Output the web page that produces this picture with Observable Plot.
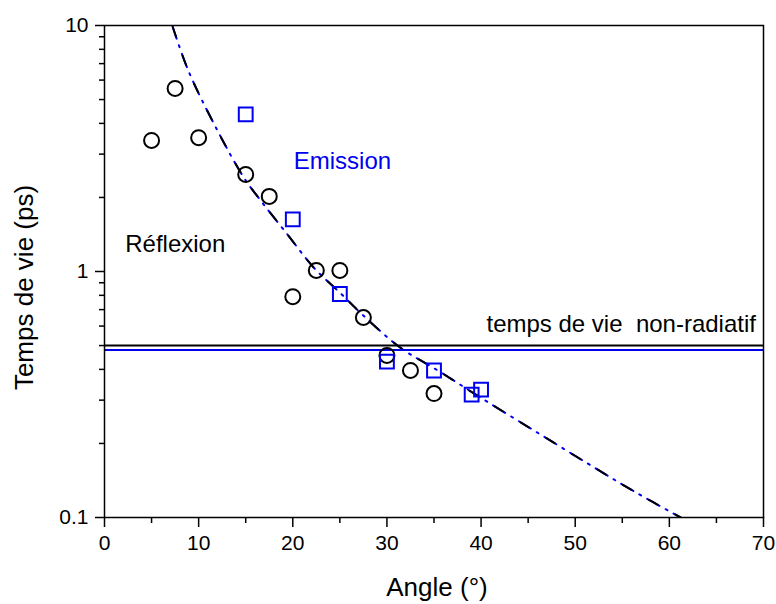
<!DOCTYPE html>
<html>
<head>
<meta charset="utf-8">
<script src="https://cdn.jsdelivr.net/npm/d3@7"></script>
<script src="https://cdn.jsdelivr.net/npm/@observablehq/plot@0.6"></script>
<style>
  html, body { margin: 0; padding: 0; background: #fff; }
  svg text { white-space: pre; }
</style>
</head>
<body>
<div id="chart"></div>
<script>
// Réflexion (black circles)
const reflexAngle = [5, 7.5, 10, 15, 17.5, 20, 22.5, 25, 27.5, 30, 32.5, 35];
const reflexTau   = [3.41, 5.55, 3.5, 2.48, 2.02, 0.79, 1.01, 1.01, 0.65, 0.456, 0.396, 0.319];
// Emission (blue squares)
const emisAngle = [15, 20, 25, 30, 35, 39, 40];
const emisTau   = [4.35, 1.63, 0.81, 0.43, 0.396, 0.316, 0.331];
// Fitted curve
const fitAngle = [7.2, 8.9, 12.0, 14.8, 16.6, 19.4, 22.2, 25.1, 27.5, 31.4, 35.4, 39.9, 45.6, 51.3, 56.2, 61.2];
const fitTau   = [10, 6.56, 3.74, 2.41, 1.94, 1.42, 1.04, 0.814, 0.662, 0.491, 0.396, 0.308, 0.226, 0.166, 0.128, 0.1];
// Non-radiative lifetime levels
const nonRadBlack = [0.5];
const nonRadBlue = [0.48];
// Ticks
const xTicks = [0, 10, 20, 30, 40, 50, 60, 70];
const xTickLabels = ["0", "10", "20", "30", "40", "50", "60", "70"];
const xMinor = [5, 15, 25, 35, 45, 55, 65];
const yTicks = [0.1, 1, 10];
const yTickLabels = ["0.1", "1", "10"];
const yMinor = [0.2, 0.3, 0.4, 0.5, 0.6, 0.7, 0.8, 0.9, 2, 3, 4, 5, 6, 7, 8, 9];
// Annotations
const emissionLabel = [{s: "Emission", x: 20.1, y: 2.6}];
const reflexionLabel = [{s: "Réflexion", x: 2.2, y: 1.2}];
const nonRadLabel = [{s: "temps de vie  non-radiatif", x: 69.2, y: 0.565}];
const xTitle = ["Angle (°)"];
const yTitle = ["Temps de vie (ps)"];

const reflex = reflexAngle.map((a, i) => ({a, t: reflexTau[i]}));
const emis = emisAngle.map((a, i) => ({a, t: emisTau[i]}));
const fit = fitAngle.map((a, i) => ({a, t: fitTau[i]}));

const font = "'Liberation Sans', Arial, sans-serif";
const blue = "#0000ee";

const chart = Plot.plot({
  width: 776,
  height: 604,
  marginTop: 25,
  marginLeft: 104,
  marginRight: 13,
  marginBottom: 87,
  style: {fontFamily: font, fontSize: "21px", color: "#000", background: "#fff"},
  x: {domain: [0, 70]},
  y: {type: "log", domain: [0.1, 10]},
  marks: [
    Plot.ruleY(nonRadBlack, {stroke: "#000", strokeWidth: 2}),
    Plot.ruleY(nonRadBlue, {stroke: blue, strokeWidth: 2}),
    Plot.line(fit, {x: "a", y: "t", stroke: blue, strokeWidth: 2, strokeDasharray: "14,16", curve: "catmull-rom", clip: true}),
    Plot.line(fit, {x: "a", y: "t", stroke: "#000", strokeWidth: 2, strokeDasharray: "10,20", strokeDashoffset: -2, curve: "catmull-rom", clip: true}),
    Plot.line(fit, {x: "a", y: "t", stroke: blue, strokeWidth: 2, strokeDasharray: "2,28", strokeDashoffset: -21, curve: "catmull-rom", clip: true}),
    Plot.dot(reflex, {x: "a", y: "t", r: 7.5, stroke: "#000", strokeWidth: 2, fill: "none"}),
    Plot.dot(emis, {x: "a", y: "t", r: 7.8, symbol: "square", stroke: blue, strokeWidth: 2, fill: "none"}),
    Plot.text(emissionLabel, {x: "x", y: "y", text: "s", fill: blue, textAnchor: "start", lineAnchor: "bottom", fontSize: 24, fontFamily: font}),
    Plot.text(reflexionLabel, {x: "x", y: "y", text: "s", fill: "#000", textAnchor: "start", lineAnchor: "bottom", fontSize: 24, fontFamily: font}),
    Plot.text(nonRadLabel, {x: "x", y: "y", text: "s", fill: "#000", textAnchor: "end", lineAnchor: "bottom", fontSize: 24, fontFamily: font}),
    Plot.frame({stroke: "#000", strokeWidth: 1.5}),
    Plot.axisX({ticks: xTicks, tickSize: 10, tickPadding: 8, tickFormat: d => xTickLabels[xTicks.indexOf(d)], label: null, strokeWidth: 1.5, fontSize: 21}),
    Plot.axisX({ticks: xMinor, tickSize: 6, tickFormat: () => "", label: null, strokeWidth: 1.5}),
    Plot.axisY({ticks: yTicks, tickSize: 9, tickPadding: 7, tickFormat: d => yTickLabels[yTicks.indexOf(d)], label: null, strokeWidth: 1.5, fontSize: 21}),
    Plot.axisY({ticks: yMinor, tickSize: 5, tickFormat: () => "", label: null, strokeWidth: 1.5}),
    Plot.text(xTitle, {frameAnchor: "bottom", textAnchor: "middle", dx: 3, dy: 70, lineAnchor: "middle", fontSize: 26, fontFamily: font}),
    Plot.text(yTitle, {frameAnchor: "left", textAnchor: "middle", dx: -80, dy: 16, rotate: -90, lineAnchor: "middle", fontSize: 26, fontFamily: font})
  ]
});
document.getElementById("chart").appendChild(chart);
</script>
</body>
</html>
